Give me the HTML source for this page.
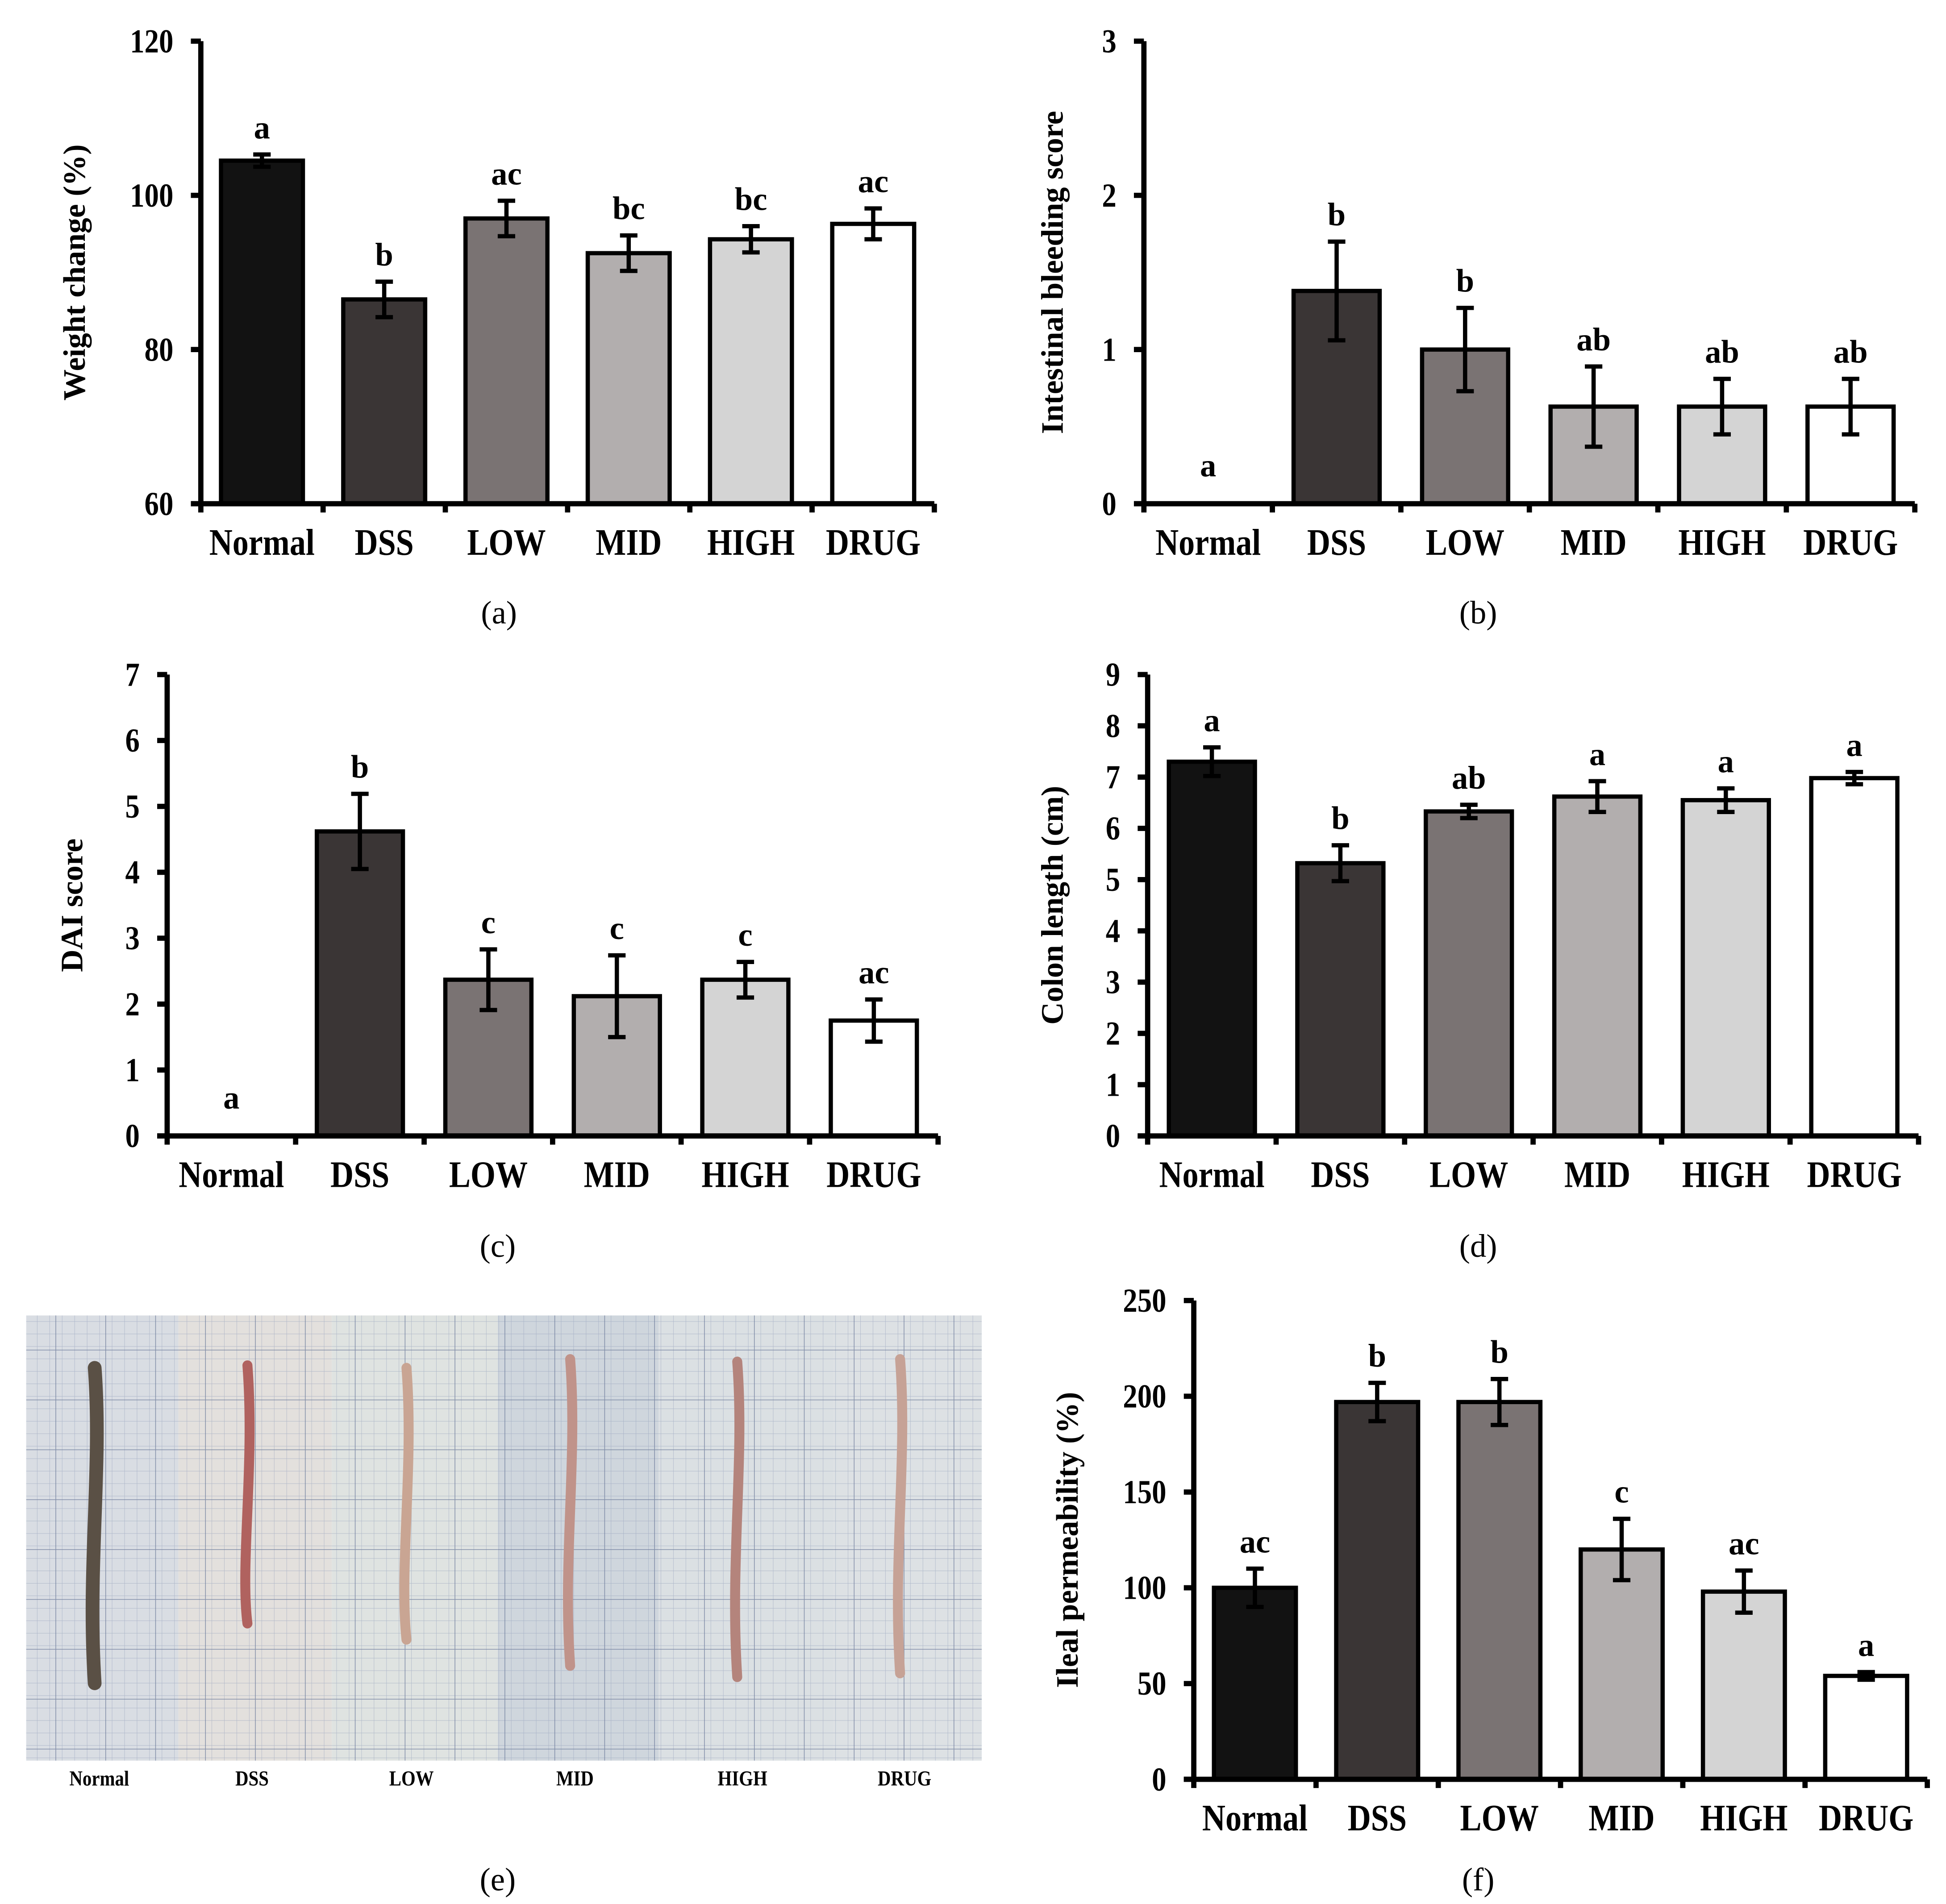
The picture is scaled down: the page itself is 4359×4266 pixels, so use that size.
<!DOCTYPE html>
<html><head><meta charset="utf-8"><style>
html,body{margin:0;padding:0;background:#fff}
svg{display:block}
text{font-family:"Liberation Serif",serif}
</style></head><body>
<svg id="fig" width="4359" height="4266" viewBox="0 0 1560 1527" preserveAspectRatio="none" xmlns="http://www.w3.org/2000/svg">
<defs>
<pattern id="gridS" width="10" height="10" patternUnits="userSpaceOnUse"><path d="M10 0V10M0 10H10" stroke="#8e9bb8" stroke-width="0.6" fill="none"/></pattern>
<pattern id="gridL" width="40" height="40" patternUnits="userSpaceOnUse" x="5" y="3"><path d="M40 0V40M0 40H40" stroke="#6f7d9c" stroke-width="1.1" fill="none"/></pattern>
</defs>
<g id="charts"></g>
<g id="photo"></g>
</svg>
<script>
const NS="http://www.w3.org/2000/svg";
const categories=["Normal","DSS","LOW","MID","HIGH","DRUG"];
const colors=["#121212","#3a3535","#7a7373","#b2aeae","#d4d4d4","#ffffff"];
// (a)
const aValues=[104.5,86.5,97,92.5,94.3,96.3];
const aErrors=[0.8,2.3,2.3,2.3,1.7,2.0];
const aLetters=["a","b","ac","bc","bc","ac"];
const aTicks=[60,80,100,120];
// (b)
const bValues=[0,1.38,1.0,0.63,0.63,0.63];
const bErrors=[0,0.32,0.27,0.26,0.18,0.18];
const bLetters=["a","b","b","ab","ab","ab"];
const bTicks=[0,1,2,3];
// (c)
const cValues=[0,4.62,2.37,2.12,2.37,1.75];
const cErrors=[0,0.57,0.46,0.62,0.27,0.32];
const cLetters=["a","b","c","c","c","ac"];
const cTicks=[0,1,2,3,4,5,6,7];
// (d)
const dValues=[7.3,5.32,6.33,6.62,6.55,6.98];
const dErrors=[0.28,0.35,0.13,0.3,0.23,0.12];
const dLetters=["a","b","ab","a","a","a"];
const dTicks=[0,1,2,3,4,5,6,7,8,9];
// (f)
const fValues=[100,197,197,120,98,54];
const fErrors=[10,10,12,16,11,2];
const fLetters=["ac","b","b","c","ac","a"];
const fTicks=[0,50,100,150,200,250];

function mk(tag,attrs,parent,txt){const e=document.createElementNS(NS,tag);for(const k in attrs)e.setAttribute(k,attrs[k]);if(txt!==undefined)e.textContent=txt;parent.appendChild(e);return e;}
function ctext(parent,x,y,size,anchor,str){
  return mk('text',{x:0,y:0,'text-anchor':anchor,'font-size':size,'font-weight':'bold',transform:`translate(${x},${y}) scale(0.86,1)`},parent,str);
}

function drawChart(cfg,values,errors,letters,ticks){
  const root=document.getElementById('charts');
  const g=mk('g',{},root);
  
  
  const ymin=ticks[0],ymax=ticks[ticks.length-1];
  const y=v=>cfg.y1-(v-ymin)/(ymax-ymin)*(cfg.y1-cfg.y0);
  const n=categories.length;
  const pitch=(cfg.x1-cfg.x0)/n;
  const cx=i=>cfg.x0+pitch*(i+0.5);
  const bw=pitch*0.67;
  values.forEach((v,i)=>{
    const top=y(v);
    const r=mk('rect',{x:cx(i)-bw/2,y:top,width:bw,height:Math.max(0,cfg.y1-top),fill:colors[i],stroke:'#000','stroke-width':3.4},g);
    
    
    if(errors[i]>0){
      const eg=mk('g',{stroke:'#000','stroke-width':3.4},g);
      
      
      const t=y(v+errors[i]),b=y(v-errors[i]);
      mk('line',{x1:cx(i),x2:cx(i),y1:t,y2:b},eg);
      mk('line',{x1:cx(i)-7,x2:cx(i)+7,y1:t,y2:t},eg);
      mk('line',{x1:cx(i)-7,x2:cx(i)+7,y1:b,y2:b},eg);
    }
    const ly=y(v+errors[i])-(errors[i]>0?13:22);
    const lt=mk('text',{x:cx(i),y:ly,'text-anchor':'middle','font-size':26,'font-weight':'bold'},g,letters[i]);
    
    
    const ct=ctext(g,cx(i),cfg.y1+41,30,'middle',categories[i]);
    
    
  });
  const ax=mk('g',{stroke:'#000','stroke-width':4.2},g);
  
  
  mk('line',{x1:cfg.x0,x2:cfg.x0,y1:cfg.y0,y2:cfg.y1+7},ax);
  mk('line',{x1:cfg.x0-8,x2:cfg.x1,y1:cfg.y1,y2:cfg.y1},ax);
  for(let i=1;i<=n;i++)mk('line',{x1:cfg.x0+pitch*i,x2:cfg.x0+pitch*i,y1:cfg.y1,y2:cfg.y1+7},ax);
  ticks.forEach(t=>{
    mk('line',{x1:cfg.x0-8,x2:cfg.x0,y1:y(t),y2:y(t)},ax);
    const tl=ctext(g,cfg.x0-22,y(t)+9,27,'end',String(t));
    
    
  });
  const yt=mk('text',{x:0,y:0,'text-anchor':'middle','font-size':25,'font-weight':'bold',transform:`translate(${cfg.tx},${(cfg.y0+cfg.y1)/2}) rotate(-90)`},g,cfg.title);
  
  
  const cap=mk('text',{x:cfg.capx,y:cfg.capy,'text-anchor':'middle','font-size':26},g,cfg.cap);
  
  
}
drawChart({name:'chart-weight-change',x0:161,x1:749,y0:33,y1:404,tx:68,title:'Weight change (%)',cap:'(a)',capx:400,capy:500},aValues,aErrors,aLetters,aTicks);
drawChart({name:'chart-bleeding-score',x0:917,x1:1535,y0:33,y1:404,tx:852,title:'Intestinal bleeding score',cap:'(b)',capx:1185,capy:500},bValues,bErrors,bLetters,bTicks);
drawChart({name:'chart-dai-score',x0:134,x1:752,y0:541,y1:911,tx:66,title:'DAI score',cap:'(c)',capx:399,capy:1008},cValues,cErrors,cLetters,cTicks);
drawChart({name:'chart-colon-length',x0:920,x1:1538,y0:541,y1:911,tx:852,title:'Colon length (cm)',cap:'(d)',capx:1185,capy:1008},dValues,dErrors,dLetters,dTicks);
drawChart({name:'chart-ileal-permeability',x0:957,x1:1545,y0:1043,y1:1427,tx:864,title:'Ileal permeability (%)',cap:'(f)',capx:1185,capy:1516},fValues,fErrors,fLetters,fTicks);

// photo panel (e)
const ph=document.getElementById('photo');
const strips=[21,143,266,399,528,668,787];
const stripBg=["#d9dde3","#e3e0dd","#dfe3e1","#cfd6dd","#dbe0e3","#dde1e4"];
const colonTop=[1097,1095,1097,1090,1092,1090];
const colonBot=[1350,1302,1315,1336,1345,1342];
const colonCol=["#5a5045","#b0625f","#c9a593","#c0938a","#b4847c","#c6a296"];
for(let i=0;i<6;i++){
  const x=strips[i],w=strips[i+1]-x;
  mk('rect',{x:x,y:1055,width:w,height:357,fill:stripBg[i]},ph);
  mk('rect',{x:x,y:1055,width:w,height:357,fill:'url(#gridS)',opacity:0.6},ph);
  mk('rect',{x:x,y:1055,width:w,height:357,fill:'url(#gridL)',opacity:0.8},ph);
  const c=x+w*0.45;
  const col=mk('path',{d:`M${c} ${colonTop[i]} C${c+6} ${colonTop[i]+80} ${c-6} ${colonTop[i]+160} ${c} ${colonBot[i]}`,stroke:colonCol[i],'stroke-width':i===0?11:8,'stroke-linecap':'round',fill:'none'},ph);
  
  
  const lb=ctext(ph,x+w*0.48,1432,17,'middle',categories[i]);
  
  
}
const ce=mk('text',{x:399,y:1516,'text-anchor':'middle','font-size':26},ph,'(e)');


</script>
</body></html>
